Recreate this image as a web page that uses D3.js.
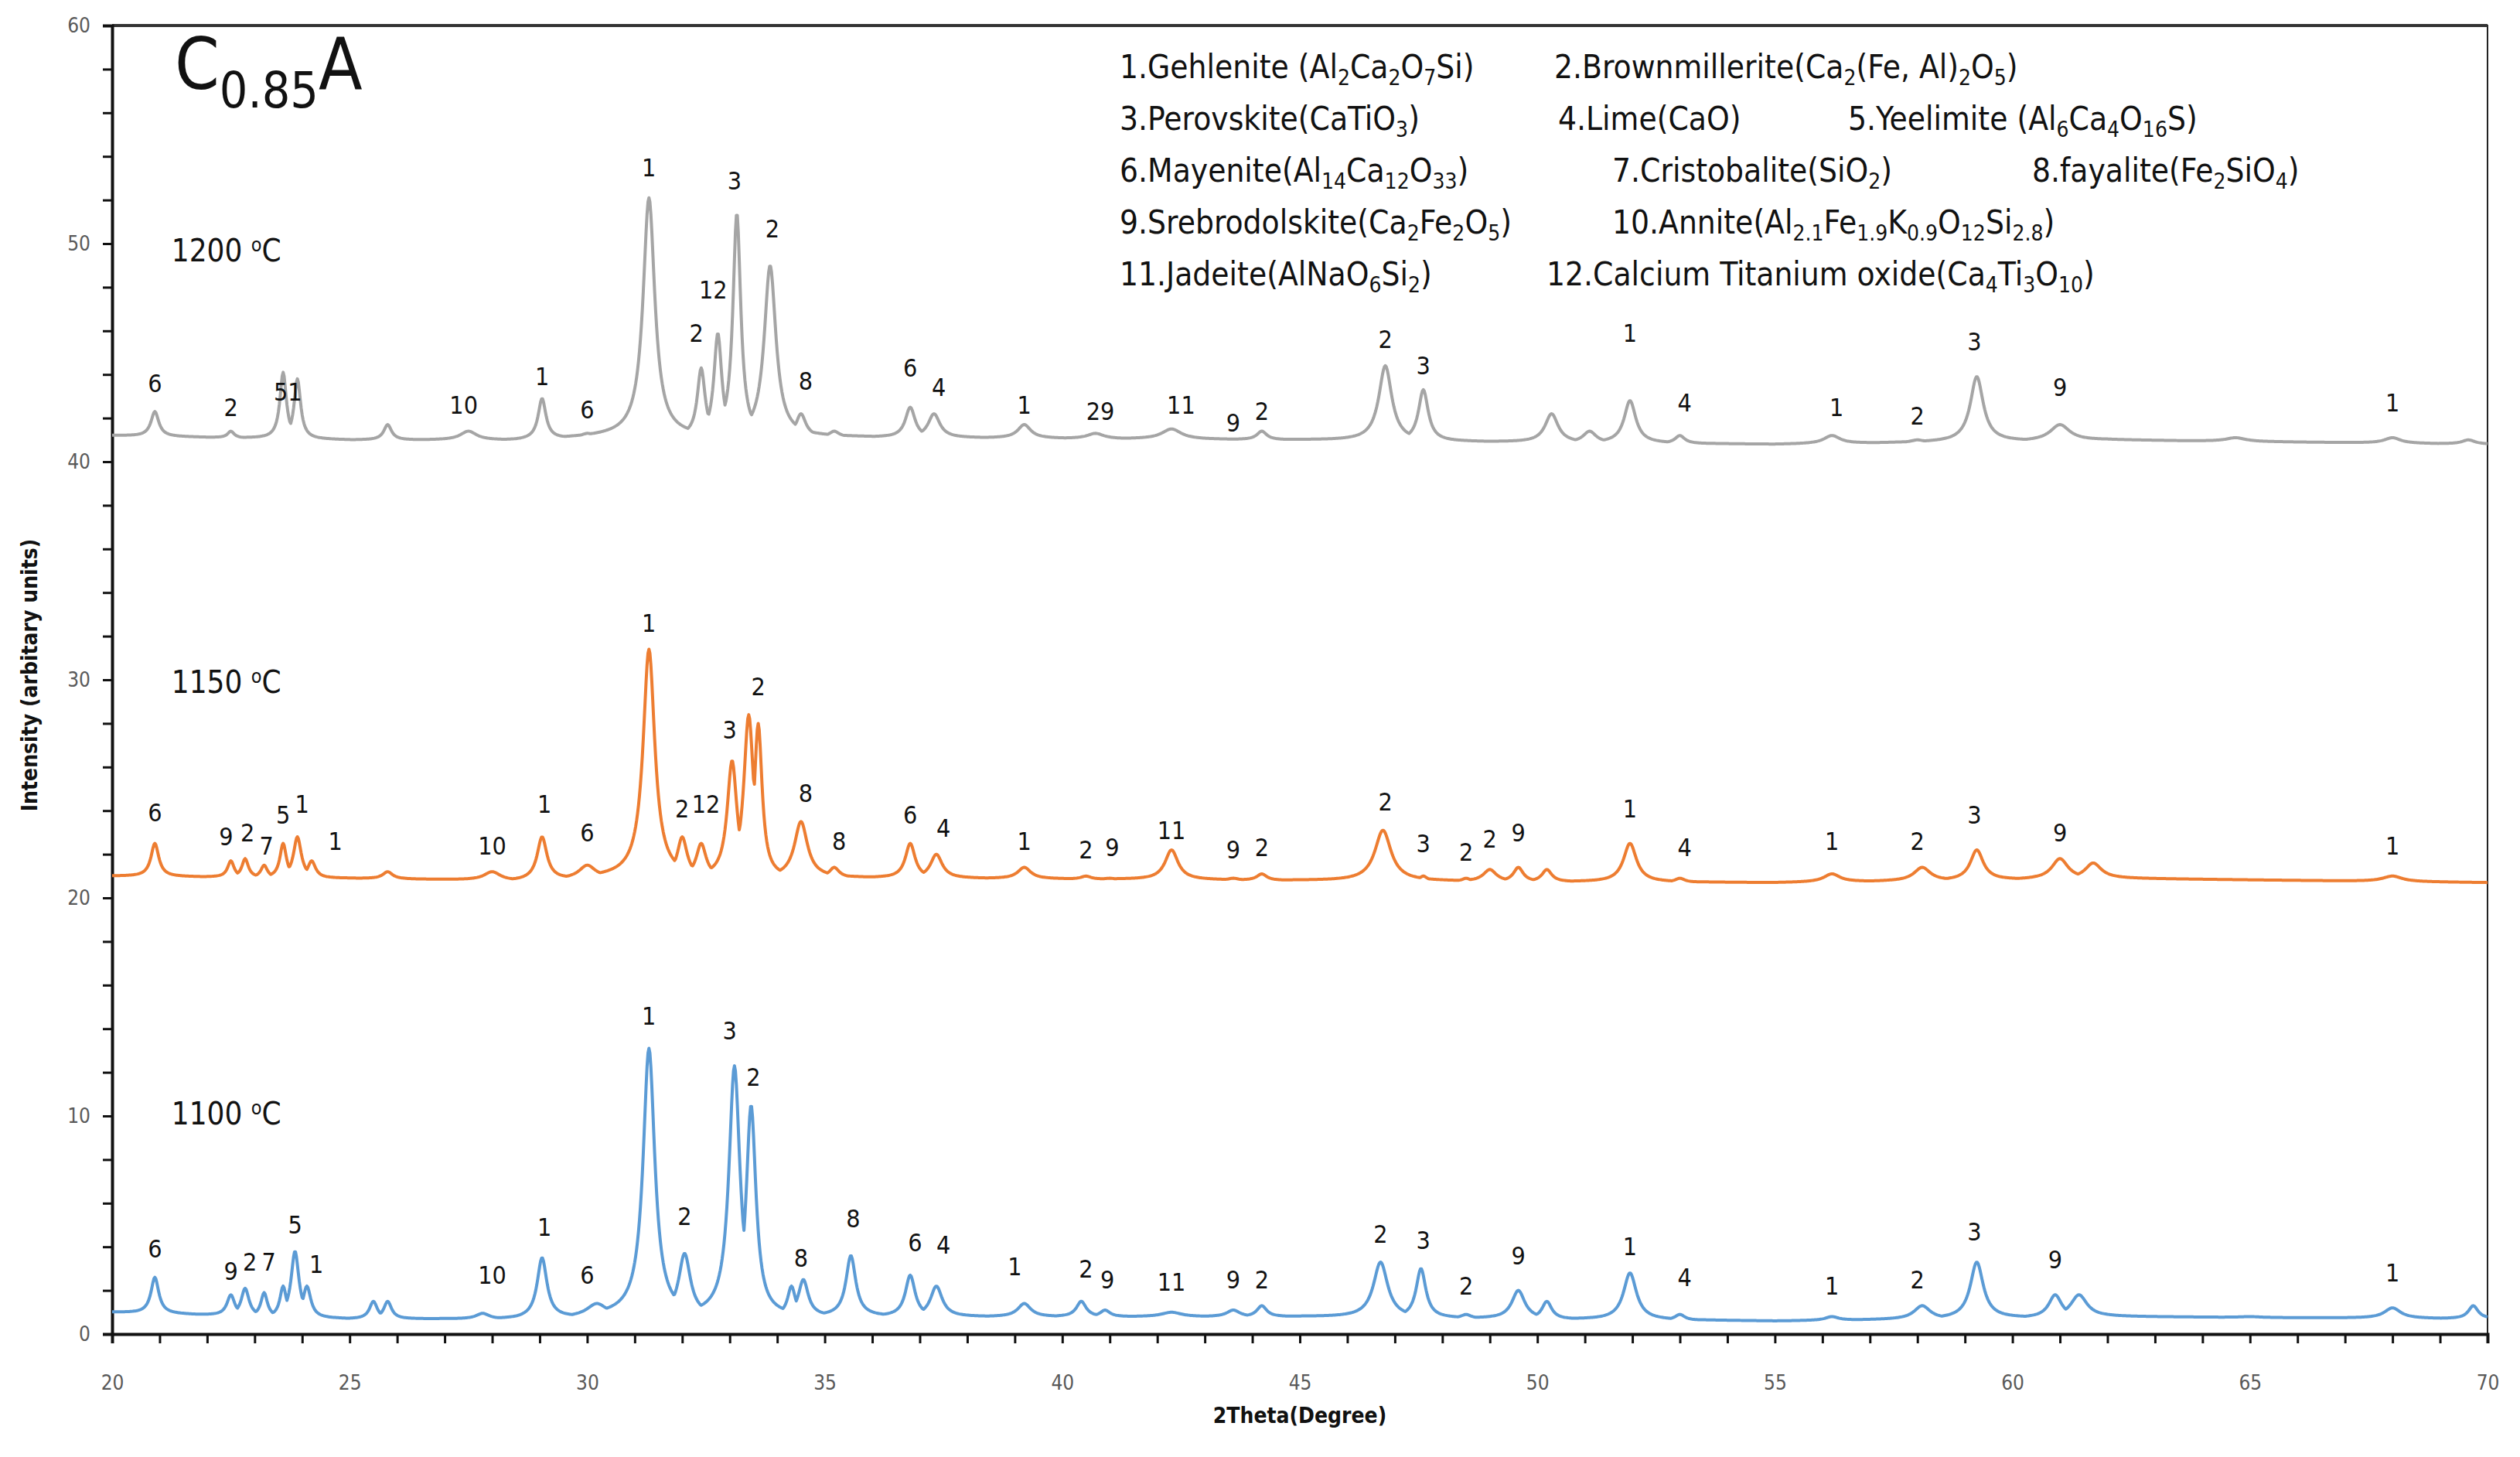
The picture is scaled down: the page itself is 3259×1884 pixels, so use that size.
<!DOCTYPE html>
<html><head><meta charset="utf-8">
<script src="https://cdn.jsdelivr.net/npm/d3@7"></script>
<style>body{margin:0;background:#fff}text{font-family:"Liberation Sans Narrow","DejaVu Sans Condensed","Liberation Sans",sans-serif}</style>
</head><body><svg id="c" width="3259" height="1884"></svg>
<script>
// peaks: [2theta, top intensity, half width]; baseline per segment
const base1100 = [[20,1.0],[25,0.7],[28.5,0.7],[31,0.9],[38,0.8],[45,0.8],[55,0.6],[62,0.8],[70,0.7]];
const peaks1100 = [[20.9,2.6,.12],[22.5,1.8,.12],[22.8,2.1,.12],[23.2,1.9,.1],[23.6,2.2,.1],[23.85,3.8,.12],[24.1,2.2,.12],[25.5,1.5,.12],[25.8,1.5,.12],[27.8,0.95,.2],[29.05,3.5,.15],[30.2,1.4,.3],[31.3,13.1,.18],[32.05,3.7,.18],[33.1,12.3,.17],[33.45,10.5,.15],[34.3,2.2,.12],[34.55,2.5,.15],[35.55,3.6,.15],[36.8,2.7,.15],[37.35,2.2,.18],[39.2,1.4,.2],[40.4,1.5,.15],[40.9,1.1,.15],[42.3,1.0,.3],[43.6,1.1,.2],[44.2,1.3,.15],[46.7,3.3,.22],[47.55,3.0,.15],[48.5,0.9,.15],[49.6,2.0,.2],[50.2,1.5,.15],[51.95,2.8,.2],[53,0.9,.15],[56.2,0.8,.2],[58.1,1.3,.25],[59.25,3.3,.2],[60.9,1.8,.2],[61.4,1.8,.25],[65,0.8,.3],[68,1.2,.25],[69.7,1.3,.15]];
const base1150 = [[20,21.0],[25,20.9],[28.5,20.8],[31,21.0],[38,20.9],[45,20.8],[55,20.7],[62,20.9],[70,20.7]];
const peaks1150 = [[20.9,22.5,.12],[22.5,21.7,.1],[22.8,21.8,.1],[23.2,21.5,.1],[23.6,22.5,.1],[23.9,22.8,.12],[24.2,21.7,.12],[25.8,21.2,.15],[28,21.2,.25],[29.05,22.8,.15],[30.0,21.5,.25],[31.3,31.4,.18],[32.0,22.8,.15],[32.4,22.5,.15],[33.05,26.3,.15],[33.4,28.4,.15],[33.6,28.0,.12],[34.5,23.5,.2],[35.2,21.4,.15],[36.8,22.5,.15],[37.35,22.0,.18],[39.2,21.4,.2],[40.5,21.0,.15],[41,20.9,.15],[42.3,22.2,.2],[43.6,20.9,.15],[44.2,21.1,.15],[46.75,23.1,.25],[47.6,21.0,.12],[48.5,20.9,.12],[49.0,21.3,.2],[49.6,21.4,.15],[50.2,21.3,.15],[51.95,22.5,.2],[53,20.9,.15],[56.2,21.1,.25],[58.1,21.4,.25],[59.25,22.2,.2],[61,21.8,.25],[61.7,21.6,.25],[68,21.0,.3]];
const base1200 = [[20,41.2],[25,41.0],[28.5,41.0],[31,41.2],[38,41.1],[45,41.0],[55,40.8],[62,41.0],[70,40.8]];
const peaks1200 = [[20.9,42.3,.12],[22.5,41.4,.1],[23.6,44.1,.1],[23.9,43.8,.1],[25.8,41.7,.12],[27.5,41.4,.25],[29.05,42.9,.12],[30.0,41.3,.2],[31.3,52.1,.18],[32.4,44.3,.12],[32.75,45.9,.12],[33.15,51.4,.12],[33.85,49.0,.18],[34.5,42.2,.15],[35.2,41.4,.15],[36.8,42.5,.15],[37.3,42.2,.18],[39.2,41.7,.2],[40.7,41.3,.25],[42.3,41.5,.3],[43.6,41.0,.2],[44.2,41.4,.15],[46.8,44.4,.2],[47.6,43.3,.15],[50.3,42.2,.2],[51.1,41.4,.2],[51.95,42.8,.18],[53,41.2,.15],[56.2,41.2,.25],[58,41.0,.2],[59.25,43.9,.2],[61,41.7,.3],[64.7,41.1,.3],[68,41.1,.25],[69.6,41.0,.2]];

const labels1100 = [[20.9,3.5,"6"],[22.5,2.5,"9"],[22.9,2.9,"2"],[23.3,2.9,"7"],[23.85,4.6,"5"],[24.3,2.8,"1"],[28,2.3,"10"],[29.1,4.5,"1"],[30,2.3,"6"],[31.3,14.2,"1"],[32.05,5,"2"],[33.0,13.5,"3"],[33.5,11.4,"2"],[34.5,3.1,"8"],[35.6,4.9,"8"],[36.9,3.8,"6"],[37.5,3.7,"4"],[39,2.7,"1"],[40.5,2.6,"2"],[40.95,2.1,"9"],[42.3,2.0,"11"],[43.6,2.1,"9"],[44.2,2.1,"2"],[46.7,4.2,"2"],[47.6,3.9,"3"],[48.5,1.8,"2"],[49.6,3.2,"9"],[51.95,3.6,"1"],[53.1,2.2,"4"],[56.2,1.8,"1"],[58,2.1,"2"],[59.2,4.3,"3"],[60.9,3.0,"9"],[68,2.4,"1"]];
const labels1150 = [[20.9,23.5,"6"],[22.4,22.4,"9"],[22.85,22.6,"2"],[23.25,22.0,"7"],[23.6,23.4,"5"],[24,23.9,"1"],[24.7,22.2,"1"],[28,22.0,"10"],[29.1,23.9,"1"],[30,22.6,"6"],[31.3,32.2,"1"],[32.0,23.7,"2"],[32.5,23.9,"12"],[33.0,27.3,"3"],[33.6,29.3,"2"],[34.6,24.4,"8"],[35.3,22.2,"8"],[36.8,23.4,"6"],[37.5,22.8,"4"],[39.2,22.2,"1"],[40.5,21.8,"2"],[41.05,21.9,"9"],[42.3,22.7,"11"],[43.6,21.8,"9"],[44.2,21.9,"2"],[46.8,24.0,"2"],[47.6,22.1,"3"],[48.5,21.7,"2"],[49.0,22.3,"2"],[49.6,22.6,"9"],[51.95,23.7,"1"],[53.1,21.9,"4"],[56.2,22.2,"1"],[58,22.2,"2"],[59.2,23.4,"3"],[61,22.6,"9"],[68,22.0,"1"]];
const labels1200 = [[20.9,43.2,"6"],[22.5,42.1,"2"],[23.7,42.8,"51"],[27.4,42.2,"10"],[29.05,43.5,"1"],[30,42.0,"6"],[31.3,53.1,"1"],[32.3,45.5,"2"],[32.65,47.5,"12"],[33.1,52.5,"3"],[33.9,50.3,"2"],[34.6,43.3,"8"],[36.8,43.9,"6"],[37.4,43.0,"4"],[39.2,42.2,"1"],[40.8,41.9,"29"],[42.5,42.2,"11"],[43.6,41.4,"9"],[44.2,41.9,"2"],[46.8,45.2,"2"],[47.6,44.0,"3"],[51.95,45.5,"1"],[53.1,42.3,"4"],[56.3,42.1,"1"],[58,41.7,"2"],[59.2,45.1,"3"],[61,43.0,"9"],[68,42.3,"1"]];

const series = [
  {name:"1100", base:base1100, peaks:peaks1100, labels:labels1100, color:"#5b9bd5", tx:21.25, ty:9.6},
  {name:"1150", base:base1150, peaks:peaks1150, labels:labels1150, color:"#ed7d31", tx:21.25, ty:29.4},
  {name:"1200", base:base1200, peaks:peaks1200, labels:labels1200, color:"#a5a5a5", tx:21.25, ty:49.2}
];
const legendLines = [
  [["1.Gehlenite (Al",["2","Ca"],["2","O"],["7","Si)"]],["2.Brownmillerite(Ca",["2","(Fe, Al)"],["2","O"],["5",")"]]],
  [["3.Perovskite(CaTiO",["3",")"]],["4.Lime(CaO)"],["5.Yeelimite (Al",["6","Ca"],["4","O"],["16","S)"]]],
  [["6.Mayenite(Al",["14","Ca"],["12","O"],["33",")"]],["7.Cristobalite(SiO",["2",")"]],["8.fayalite(Fe",["2","SiO"],["4",")"]]],
  [["9.Srebrodolskite(Ca",["2","Fe"],["2","O"],["5",")"]],["10.Annite(Al",["2.1","Fe"],["1.9","K"],["0.9","O"],["12","Si"],["2.8",")"]]],
  [["11.Jadeite(AlNaO",["6","Si"],["2",")"]],["12.Calcium Titanium oxide(Ca",["4","Ti"],["3","O"],["10",")"]]]
];
const legendX = [[1448,2010],[1448,2015,2390],[1448,2085,2628],[1448,2085],[1448,2000]];

const svg = d3.select("#c");
const m = {l:145, r:3217, t:33, b:1725};
const x = d3.scaleLinear().domain([20,70]).range([m.l,m.r]);
const y = d3.scaleLinear().domain([0,60]).range([m.b,m.t]);

// frame
svg.append("rect").attr("x",m.l).attr("y",m.t).attr("width",m.r-m.l).attr("height",m.b-m.t)
  .attr("fill","none").attr("stroke","#222").attr("stroke-width",2);
svg.append("line").attr("x1",m.l).attr("x2",m.r).attr("y1",m.t).attr("y2",m.t).attr("stroke","#333").attr("stroke-width",4);

// axes
const xa = svg.append("g").attr("transform",`translate(0,${m.b})`)
  .call(d3.axisBottom(x).ticks(50).tickSize(12).tickFormat(d => d%5===0 ? d : ""));
const ya = svg.append("g").attr("transform",`translate(${m.l},0)`)
  .call(d3.axisLeft(y).ticks(30).tickSize(12).tickFormat(d => d%10===0 ? d : ""));
[xa,ya].forEach(g => {
  g.select(".domain").attr("stroke","#111").attr("stroke-width",4);
  g.selectAll(".tick line").attr("stroke","#111").attr("stroke-width",3);
  g.selectAll(".tick text").attr("fill","#595959").attr("font-size",26)
    .style("font-family","'Liberation Sans Narrow','DejaVu Sans Condensed',sans-serif");
});
xa.selectAll(".tick text").attr("dy","2.2em");
ya.selectAll(".tick text").attr("dx","-0.5em");

// traces: baseline plus peak profiles, sampled along the 2theta range
const line = d3.line().x(d => x(d[0])).y(d => y(d[1]));
function baseAt(b, t) {
  for (let i=1;i<b.length;i++) if (t<=b[i][0]) {
    const f=(t-b[i-1][0])/(b[i][0]-b[i-1][0]); return b[i-1][1]+f*(b[i][1]-b[i-1][1]);
  }
  return b[b.length-1][1];
}
const grid = d3.range(20, 70.001, 0.02);
series.forEach(s => {
  const pts = grid.map(t => {
    const b = baseAt(s.base, t);
    let v = 0;
    s.peaks.forEach(p => {
      const h = p[1] - baseAt(s.base, p[0]);
      const w = p[2] * 1.3;
      const u = (t - p[0]) / w;
      v = Math.max(v, h / (1 + 2.5*u*u));
    });
    return [t, b + v];
  });
  svg.append("path").datum(pts).attr("d",line).attr("fill","none")
    .attr("stroke",s.color).attr("stroke-width",4).attr("stroke-linejoin","round");
  svg.append("g").selectAll("text").data(s.labels).join("text")
    .attr("x",d => x(d[0])).attr("y",d => y(d[1])).attr("text-anchor","middle")
    .attr("font-size",32).attr("fill","#111").text(d => d[2]);
  const t = svg.append("text").attr("x",x(s.tx)).attr("y",y(s.ty)).attr("font-size",40).attr("fill","#111");
  t.append("tspan").text(s.name+" ");
  t.append("tspan").attr("dy",-13).attr("font-size",25).text("o");
  t.append("tspan").attr("dy",13).text("C");
});

// title
const title = svg.append("text").attr("x",226).attr("y",115).attr("font-size",92).attr("fill","#111");
title.append("tspan").text("C");
title.append("tspan").attr("dy",24).attr("font-size",64).text("0.85");
title.append("tspan").attr("dy",-24).text("A");

// legend
legendLines.forEach((row,i) => {
  const yy = 101 + i*67;
  row.forEach((item,j) => {
    const t = svg.append("text").attr("x",legendX[i][j]).attr("y",yy).attr("font-size",42).attr("fill","#111");
    item.forEach(part => {
      if (typeof part === "string") t.append("tspan").text(part);
      else {
        t.append("tspan").attr("dy",9).attr("font-size",28).text(part[0]);
        t.append("tspan").attr("dy",-9).text(part[1]);
      }
    });
  });
});

// axis titles
svg.append("text").attr("x",(m.l+m.r)/2).attr("y",1840).attr("text-anchor","middle")
  .attr("font-size",28).attr("font-weight","bold").attr("fill","#111").text("2Theta(Degree)");
svg.append("text").attr("transform","translate(48,873) rotate(-90)").attr("text-anchor","middle")
  .attr("font-size",28).attr("font-weight","bold").attr("fill","#111").text("Intensity (arbitary units)");
</script></body></html>
